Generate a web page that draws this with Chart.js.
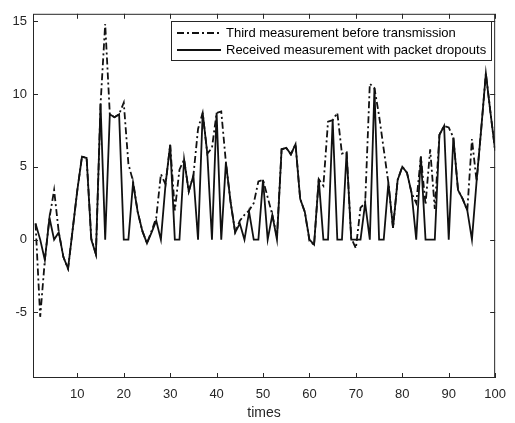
<!DOCTYPE html>
<html>
<head>
<meta charset="utf-8">
<script src="https://cdn.jsdelivr.net/npm/chart.js@4.4.1/dist/chart.umd.min.js"></script>
<style>
  body { margin: 0; background: #fff; }
  #wrap { width: 515px; height: 423px; }
</style>
</head>
<body>
<div id="wrap"><canvas id="measChart" width="515" height="423"></canvas></div>
<script>
// time index 1..100
var times = Array.from({length: 100}, function (_, i) { return i + 1; });

var thirdMeasurement = [
  1.1, -5.3, -1.4, 1.5, 3.4, 0.5, -1.2, -2.0, 0.7, 3.4,
  5.7, 5.6, 0.1, -1.0, 9.3, 14.8, 8.6, 8.4, 8.6, 9.4,
  5.2, 4.0, 1.9, 0.6, -0.25, 0.6, 1.5, 4.5, 3.8, 6.5,
  2.0, 4.8, 5.5, 3.3, 4.4, 7.6, 8.7, 5.9, 6.3, 8.7,
  8.8, 5.3, 2.6, 0.5, 1.3, 1.7, 2.0, 2.5, 4.0, 4.1,
  2.9, 1.7, 0.2, 6.2, 6.3, 5.85, 6.55, 2.8, 1.9, -0.1,
  -0.35, 4.15, 3.7, 8.1, 8.2, 8.7, 5.9, 6.0, 0.1, -0.6,
  2.2, 2.5, 10.7, 10.4, 8.5, 6.2, 3.9, 0.8, 4.1, 5.0,
  4.6, 3.2, 2.5, 5.7, 2.4, 6.2, 2.1, 7.2, 7.8, 7.7,
  7.0, 3.4, 2.8, 2.0, 6.9, 4.0, 7.6, 11.4, 8.7, 6.1
];

var receivedMeasurement = [
  1.1, 0, -1.4, 1.5, 0, 0.5, -1.2, -2.0, 0.7, 3.4,
  5.7, 5.6, 0, -1.0, 9.3, 0, 8.6, 8.4, 8.6, 0,
  0, 3.9, 1.9, 0.6, -0.25, 0.5, 1.3, 0, 3.8, 6.5,
  0, 0, 5.5, 3.3, 4.4, 0, 8.7, 5.9, 0, 8.7,
  0, 5.3, 2.6, 0.5, 1.1, 0, 1.9, 0, 0, 4.1,
  0, 1.7, 0, 6.2, 6.3, 5.85, 6.55, 2.8, 1.9, 0,
  -0.35, 4.15, 0, 0, 8.2, 0, 0, 6.0, 0, 0,
  0, 2.5, 0, 10.4, 0, 0, 3.9, 0.8, 4.1, 5.0,
  4.6, 3.2, 0, 5.7, 0, 0, 0, 7.2, 7.8, 0,
  7.0, 3.4, 2.8, 2.0, 0, 4.0, 7.6, 11.4, 8.7, 6.1
];

var xTicks = [10, 20, 30, 40, 50, 60, 70, 80, 90, 100];
var yTicks = [-5, 0, 5, 10, 15];

var axisColor = "#262626";
var fontFamily = "'Liberation Sans', Arial, Helvetica, sans-serif";

function toPoints(vals) {
  return times.map(function (t, i) { return {x: t, y: vals[i]}; });
}

// MATLAB-like box with inward ticks
var boxPlugin = {
  id: 'boxTicks',
  afterDatasetsDraw: function (chart) {
    var ctx = chart.ctx, a = chart.chartArea;
    var xs = chart.scales.x, ys = chart.scales.y;
    var len = 5;
    ctx.save();
    ctx.strokeStyle = axisColor;
    ctx.lineWidth = 1;
    ctx.strokeRect(a.left + 0.5, a.top + 0.5, a.right - a.left - 1, a.bottom - a.top - 1);
    ctx.beginPath();
    xTicks.forEach(function (v) {
      var px = Math.round(xs.getPixelForValue(v)) + 0.5;
      ctx.moveTo(px, a.bottom); ctx.lineTo(px, a.bottom - len);
      ctx.moveTo(px, a.top); ctx.lineTo(px, a.top + len);
    });
    yTicks.forEach(function (v) {
      var py = Math.round(ys.getPixelForValue(v)) + 0.5;
      ctx.moveTo(a.left, py); ctx.lineTo(a.left + len, py);
      ctx.moveTo(a.right, py); ctx.lineTo(a.right - len, py);
    });
    ctx.stroke();
    ctx.restore();
  }
};

// legend box inside the plot, top right
var legendPlugin = {
  id: 'boxLegend',
  afterDraw: function (chart) {
    var ctx = chart.ctx;
    var bx = 171, by = 21, bw = 320, bh = 39;
    ctx.save();
    ctx.fillStyle = "#fff";
    ctx.fillRect(bx, by, bw, bh);
    ctx.strokeStyle = axisColor;
    ctx.lineWidth = 1;
    ctx.strokeRect(bx + 0.5, by + 0.5, bw, bh);
    chart.data.datasets.forEach(function (ds, i) {
      var y = by + 12 + i * 17;
      ctx.beginPath();
      ctx.setLineDash(ds.borderDash || []);
      ctx.strokeStyle = ds.borderColor;
      ctx.lineWidth = ds.borderWidth;
      ctx.moveTo(177, y);
      ctx.lineTo(221, y);
      ctx.stroke();
      ctx.setLineDash([]);
      ctx.fillStyle = "#000";
      ctx.font = "13px " + fontFamily;
      ctx.textBaseline = "middle";
      ctx.textAlign = "left";
      ctx.fillText(ds.label, 226, y);
    });
    ctx.restore();
  }
};

var ctx = document.getElementById("measChart").getContext('2d');
var myChart = new Chart(ctx, {
  type: 'line',
  data: {
    datasets: [{
      label: "Third measurement before transmission",
      data: toPoints(thirdMeasurement),
      borderColor: "#111",
      borderWidth: 1.8,
      borderDash: [7, 3, 2, 3],
      pointRadius: 0,
      tension: 0,
      order: 1
    }, {
      label: "Received measurement with packet dropouts",
      data: toPoints(receivedMeasurement),
      borderColor: "#111",
      borderWidth: 1.8,
      pointRadius: 0,
      tension: 0,
      order: 0
    }]
  },
  options: {
    responsive: false,
    animation: false,
    layout: { padding: { top: 10, right: 15, left: 0, bottom: 0 } },
    plugins: { legend: { display: false }, tooltip: { enabled: false } },
    scales: {
      x: {
        type: 'linear',
        min: 0.45,
        max: 100,
        grid: { display: false, drawTicks: false },
        border: { display: false },
        afterBuildTicks: function (s) { s.ticks = xTicks.map(function (v) { return {value: v}; }); },
        afterFit: function (s) { s.height = 45; },
        ticks: { color: axisColor, padding: 9, maxRotation: 0, autoSkip: false, font: { size: 13, family: fontFamily } },
        title: { display: true, text: "times", color: axisColor, padding: { top: 0, bottom: 1 }, font: { size: 14, family: fontFamily } }
      },
      y: {
        min: -9.5,
        max: 15.5,
        grid: { display: false, drawTicks: false },
        border: { display: false },
        afterBuildTicks: function (s) { s.ticks = yTicks.map(function (v) { return {value: v}; }); },
        afterFit: function (s) { s.width = 33; },
        ticks: { color: axisColor, padding: 6, font: { size: 13, family: fontFamily } }
      }
    }
  },
  plugins: [boxPlugin, legendPlugin]
});
</script>
</body>
</html>
